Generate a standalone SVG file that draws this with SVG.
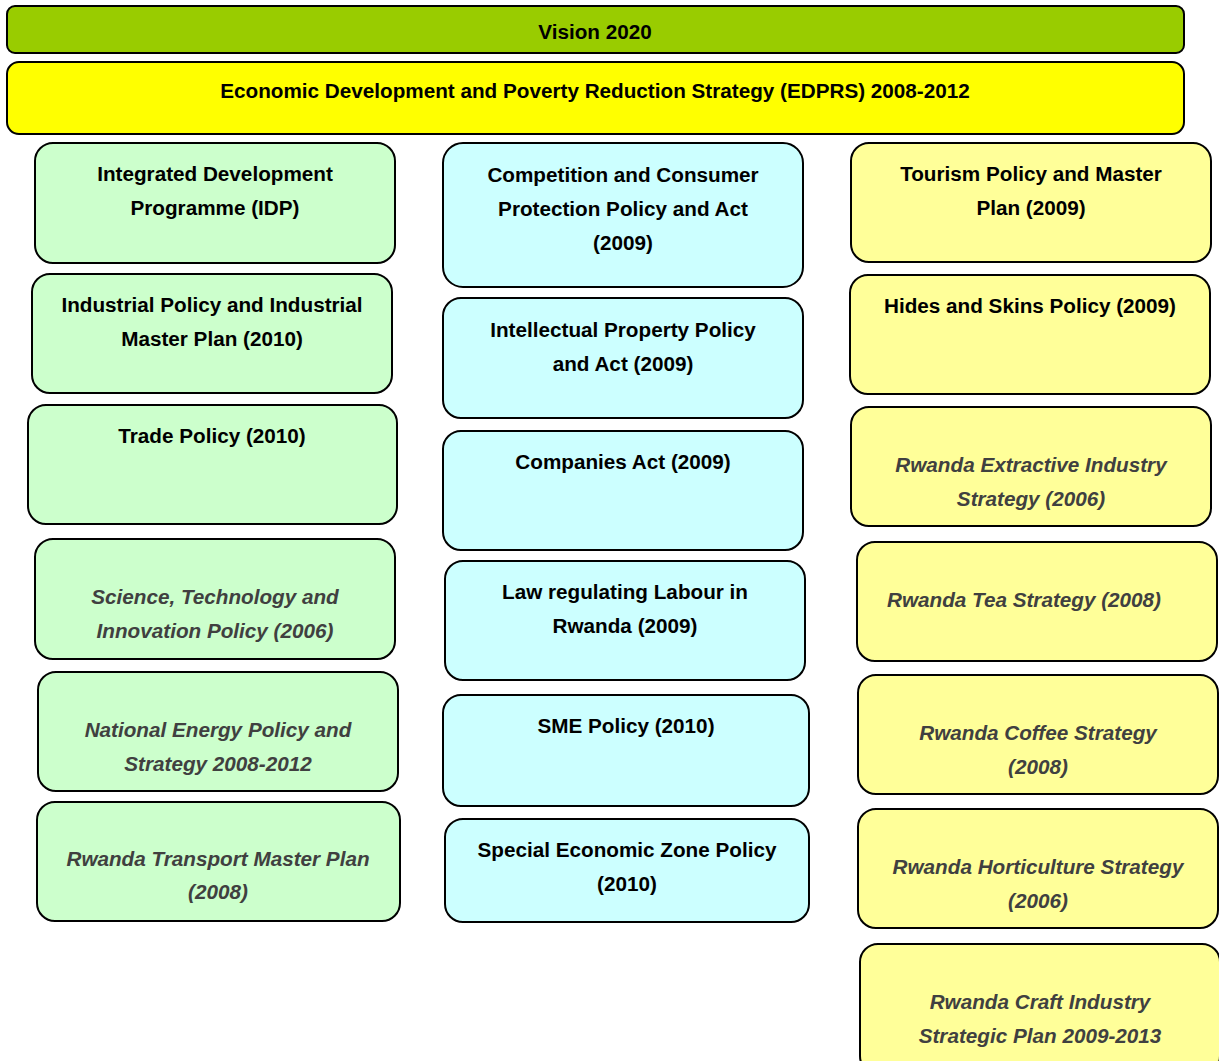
<svg xmlns="http://www.w3.org/2000/svg" width="1219" height="1061" viewBox="0 0 1219 1061">
<style>
rect.b{stroke:#000;stroke-width:2}
.top{fill:#99CC00}
.ed{fill:#FFFF00}
.g{fill:#CCFFCC}
.c{fill:#CCFFFF}
.y{fill:#FFFF99}
text{font-family:"Liberation Sans",Arial,sans-serif;font-weight:bold;font-size:20.7px;text-anchor:middle;fill:#000}
text.i{font-style:italic;fill:#404040}
</style>
<rect width="1219" height="1061" fill="#fff"/>
<g id="vision"><rect class="b top" x="7" y="6" width="1177" height="47" rx="8"/><text x="595" y="39">Vision 2020</text></g>
<g id="edprs"><rect class="b ed" x="7" y="62" width="1177" height="72" rx="12"/><text x="595" y="98">Economic Development and Poverty Reduction Strategy (EDPRS) 2008-2012</text></g>

<g id="idp"><rect class="b g" x="35" y="143" width="360" height="120" rx="18"/><text x="215" y="181">Integrated Development</text><text x="215" y="215">Programme (IDP)</text></g>
<g id="industrial"><rect class="b g" x="32" y="274" width="360" height="119" rx="18"/><text x="212" y="312">Industrial Policy and Industrial</text><text x="212" y="346">Master Plan (2010)</text></g>
<g id="trade"><rect class="b g" x="28" y="405" width="369" height="119" rx="18"/><text x="212" y="443">Trade Policy (2010)</text></g>
<g id="sti"><rect class="b g" x="35" y="539" width="360" height="120" rx="18"/><text class="i" x="215" y="604">Science, Technology and</text><text class="i" x="215" y="638">Innovation Policy (2006)</text></g>
<g id="energy"><rect class="b g" x="38" y="672" width="360" height="119" rx="18"/><text class="i" x="218" y="737">National Energy Policy and</text><text class="i" x="218" y="771">Strategy 2008-2012</text></g>
<g id="transport"><rect class="b g" x="37" y="802" width="363" height="119" rx="18"/><text class="i" x="218" y="866">Rwanda Transport Master Plan</text><text class="i" x="218" y="899">(2008)</text></g>

<g id="competition"><rect class="b c" x="443" y="143" width="360" height="144" rx="20"/><text x="623" y="182">Competition and Consumer</text><text x="623" y="216">Protection Policy and Act</text><text x="623" y="250">(2009)</text></g>
<g id="ip"><rect class="b c" x="443" y="298" width="360" height="120" rx="18"/><text x="623" y="337">Intellectual Property Policy</text><text x="623" y="371">and Act (2009)</text></g>
<g id="companies"><rect class="b c" x="443" y="431" width="360" height="119" rx="18"/><text x="623" y="469">Companies Act (2009)</text></g>
<g id="labour"><rect class="b c" x="445" y="561" width="360" height="119" rx="18"/><text x="625" y="599">Law regulating Labour in</text><text x="625" y="633">Rwanda (2009)</text></g>
<g id="sme"><rect class="b c" x="443" y="695" width="366" height="111" rx="18"/><text x="626" y="733">SME Policy (2010)</text></g>
<g id="sez"><rect class="b c" x="445" y="819" width="364" height="103" rx="18"/><text x="627" y="857">Special Economic Zone Policy</text><text x="627" y="891">(2010)</text></g>

<g id="tourism"><rect class="b y" x="851" y="143" width="360" height="119" rx="18"/><text x="1031" y="181">Tourism Policy and Master</text><text x="1031" y="215">Plan (2009)</text></g>
<g id="hides"><rect class="b y" x="850" y="275" width="360" height="119" rx="18"/><text x="1030" y="313">Hides and Skins Policy (2009)</text></g>
<g id="extractive"><rect class="b y" x="851" y="407" width="360" height="119" rx="18"/><text class="i" x="1031" y="472">Rwanda Extractive Industry</text><text class="i" x="1031" y="506">Strategy (2006)</text></g>
<g id="tea"><rect class="b y" x="857" y="542" width="360" height="119" rx="18"/><text class="i" x="1024" y="607">Rwanda Tea Strategy (2008)</text></g>
<g id="coffee"><rect class="b y" x="858" y="675" width="360" height="119" rx="18"/><text class="i" x="1038" y="740">Rwanda Coffee Strategy</text><text class="i" x="1038" y="774">(2008)</text></g>
<g id="horticulture"><rect class="b y" x="858" y="809" width="360" height="119" rx="18"/><text class="i" x="1038" y="874">Rwanda Horticulture Strategy</text><text class="i" x="1038" y="908">(2006)</text></g>
<g id="craft"><rect class="b y" x="860" y="944" width="360" height="130" rx="18"/><text class="i" x="1040" y="1009">Rwanda Craft Industry</text><text class="i" x="1040" y="1043">Strategic Plan 2009-2013</text></g>

<g id="connectors"></g>
</svg>
